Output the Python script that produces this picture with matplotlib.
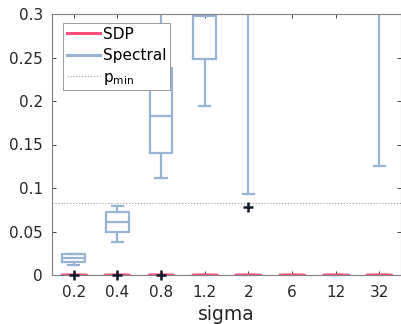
import numpy as np
import matplotlib
matplotlib.use('Agg')
import matplotlib.pyplot as plt

plt.rcParams['font.family'] = ['DejaVu Sans']

# data
sigma_labels = ['0.2', '0.4', '0.8', '1.2', '2', '6', '12', '32']
spec_whislo = [0.0115, 0.0383, 0.1119, 0.194, 0.0931, 0.35, 0.35, 0.1257]
spec_q1 = [0.0153, 0.049, 0.140, 0.248, 0.33, 0.40, 0.40, 0.33]
spec_med = [0.0199, 0.0606, 0.183, 0.298, 0.36, 0.45, 0.45, 0.36]
spec_q3 = [0.0238, 0.0721, 0.2376, 0.40, 0.40, 0.50, 0.50, 0.40]
spec_whishi = [0.0238, 0.0793, 0.32, 0.45, 0.45, 0.55, 0.55, 0.45]
spec_fliers = [[], [], [], [], [0.0786], [], [], []]
sdp_fliers = [[0.0], [0.0], [0.0], [], [], [], [], []]
p_min = 0.0828

spec_color = '#97b3d3'
sdp_color = '#ff4f7b'

fig = plt.figure(figsize=(4.02, 3.24), dpi=100)
ax = fig.add_axes([52 / 402, 1 - 275 / 324, 349 / 402, 261 / 324])

pos = np.arange(1, len(sigma_labels) + 1)

spec_stats = []
for i in range(len(sigma_labels)):
    spec_stats.append(dict(whislo=spec_whislo[i], q1=spec_q1[i], med=spec_med[i],
                           q3=spec_q3[i], whishi=spec_whishi[i], fliers=spec_fliers[i]))
sdp_stats = []
for i in range(len(sigma_labels)):
    sdp_stats.append(dict(whislo=0, q1=0, med=0, q3=0, whishi=0, fliers=sdp_fliers[i]))

fp = dict(marker='+', markeredgecolor='#101828', markersize=6.5, markeredgewidth=1.8)
lp = dict(color=spec_color, linewidth=1.6)
b1 = ax.bxp(spec_stats, positions=pos, widths=0.52, boxprops=lp, whiskerprops=lp,
            capprops=lp, medianprops=lp, capwidths=0.26, flierprops=fp)
sp = dict(color=sdp_color, linewidth=2.4)
b2 = ax.bxp(sdp_stats, positions=pos, widths=0.55, boxprops=sp, whiskerprops=sp,
            capprops=sp, medianprops=sp, capwidths=0.26, flierprops=fp)
for f in b1['fliers'] + b2['fliers']:
    f.set_zorder(5)
    f.set_clip_on(False)

ax.axhline(p_min, color='#a0a0a0', linestyle=':', linewidth=0.8)

ax.set_xlim(0.5, 8.5)
ax.set_ylim(0, 0.3)
ax.set_xticks(pos)
ax.set_xticklabels(sigma_labels)
ax.set_yticks([0, 0.05, 0.1, 0.15, 0.2, 0.25, 0.3])
ax.set_yticklabels(['0', '0.05', '0.1', '0.15', '0.2', '0.25', '0.3'])
ax.tick_params(direction='in', top=True, right=True, length=3, colors='#262626',
               labelsize=11, width=0.6)
ax.tick_params(axis='x', pad=7)
ax.tick_params(axis='y', pad=6.5)
for s in ax.spines.values():
    s.set_color('#808080')
    s.set_linewidth(0.8)
ax.set_xlabel('sigma', fontsize=13.5, color='#262626', labelpad=4)

h1, = ax.plot([], [], color=sdp_color, linewidth=2.2, label='SDP')
h2, = ax.plot([], [], color=spec_color, linewidth=2.2, label='Spectral')
h3, = ax.plot([], [], color='#a0a0a0', linestyle=':', linewidth=0.8, label='$\\mathregular{p_{min}}$')
leg = ax.legend(handles=[h1, h2, h3], loc='upper left', bbox_to_anchor=(0.0315, 0.9655),
                prop={'size': 11}, fancybox=False, framealpha=1, edgecolor='#8c8c8c',
                borderpad=0.25, labelspacing=0.42, handlelength=2.2, handletextpad=0.15,
                borderaxespad=0)
leg.get_frame().set_linewidth(0.6)

fig.savefig('out.png', dpi=100)
